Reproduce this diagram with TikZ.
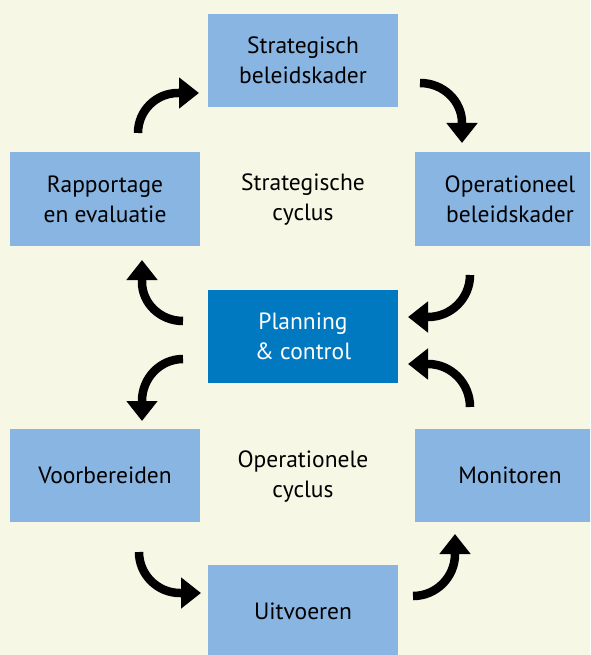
\documentclass[tikz,border=0pt]{standalone}
\usepackage{fontspec}
\setmainfont{PT Sans}
\usetikzlibrary{arrows.meta}
\definecolor{bg}{RGB}{246,247,228}
\definecolor{boxblue}{RGB}{137,181,226}
\definecolor{pcblue}{RGB}{0,121,193}
\begin{document}
\begin{tikzpicture}[x=1pt,y=-1pt,
  txt/.style={align=center, inner sep=0pt, font=\fontsize{23.5}{30}\selectfont},
  box/.style={txt, fill=boxblue, minimum width=190pt, minimum height=93pt, text=black},
  pc/.style={box, fill=pcblue, text=white},
  cyc/.style={line width=8.5pt, -{Triangle[length=20pt,width=30pt]}}]
\fill[bg] (0,0) rectangle (590,655);
\useasboundingbox (0,0) rectangle (590,655);
\begin{scope}
\clip (0,0) rectangle (590,655);
\node[box] (sb) at (303,60.5) {Strategisch\\beleidskader};
\node[box] (re) at (105,199) {Rapportage\\en evaluatie};
\node[box] (ob) at (510,199) {Operationeel\\beleidskader};
\node[pc]  (pc) at (303,336.5) {Planning\\\& control};
\node[box] (vb) at (105,475) {Voorbereiden};
\node[box] (mo) at (510,475) {Monitoren};
\node[box] (ui) at (303,611.5) {Uitvoeren};
\end{scope}
\node[txt] (sc) at (303,200) {Strategische\\cyclus};
\node[txt] (oc) at (303,477) {Operationele\\cyclus};
% connectors
\coordinate (a1s) at (138,133); \coordinate (a1e) at (199,93);
\coordinate (a2s) at (420,83);  \coordinate (a2e) at (462,143);
\coordinate (a3s) at (470,275); \coordinate (a3e) at (408,317);
\coordinate (a4s) at (470,407); \coordinate (a4e) at (408,364);
\coordinate (a5s) at (183,321); \coordinate (a5e) at (142,260);
\coordinate (a6s) at (183,359); \coordinate (a6e) at (142,421);
\coordinate (a7s) at (139,552); \coordinate (a7e) at (201,593);
\coordinate (a8s) at (413,596); \coordinate (a8e) at (455,534);
\draw[cyc] (a1s) .. controls (138,110.9) and (155.9,93) .. (178,93) -- (a1e);
\draw[cyc] (a2s) .. controls (443.2,83) and (462,100.9) .. (462,123) -- (a2e);
\draw[cyc] (a3s) .. controls (470,298.2) and (451.2,317) .. (428,317) -- (a3e);
\draw[cyc] (a4s) .. controls (470,383.3) and (451.2,364) .. (428,364) -- (a4e);
\draw[cyc] (a5s) .. controls (160.4,321) and (142,303.5) .. (142,282) -- (a5e);
\draw[cyc] (a6s) .. controls (160.4,359) and (142,377.8) .. (142,401) -- (a6e);
\draw[cyc] (a7s) .. controls (139,574.6) and (157.4,593) .. (180,593) -- (a7e);
\draw[cyc] (a8s) .. controls (436.2,596) and (455,577.2) .. (455,554) -- (a8e);
\end{tikzpicture}
\end{document}
